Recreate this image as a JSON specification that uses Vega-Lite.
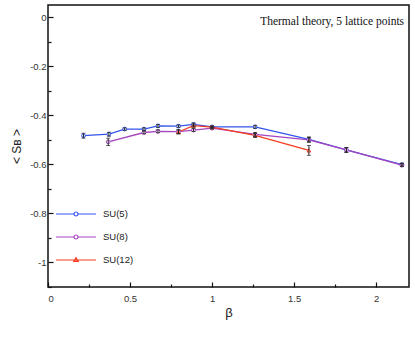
{
  "$schema": "https://vega.github.io/schema/vega-lite/v6.json",
  "width": 361,
  "height": 282,
  "autosize": {"type": "none"},
  "padding": {"left": 48, "top": 5, "right": 6, "bottom": 59},
  "background": "white",
  "config": {
    "view": {"stroke": "#111", "strokeWidth": 1.5},
    "axis": {"labelFont": "Liberation Sans", "labelFontSize": 9.5, "labelColor": "#333", "titleFont": "Liberation Sans", "titleFontWeight": "normal", "titleColor": "#222", "domain": false, "grid": false, "tickColor": "#111", "tickWidth": 1.2},
    "legend": {"orient": "none", "legendX": 7, "legendY": 203, "clipHeight": 12, "symbolSize": 1600, "rowPadding": 11, "labelOffset": 6, "labelFont": "Liberation Sans", "labelFontSize": 9.5, "labelColor": "#222", "symbolStrokeWidth": 1.2, "symbolOpacity": 1, "padding": 0, "title": null}
  },
  "data": {"values": [
    {"series": "SU(5)", "beta": 0.216, "s": -0.483, "err": 0.01},
    {"series": "SU(5)", "beta": 0.371, "s": -0.477, "err": 0.008},
    {"series": "SU(5)", "beta": 0.467, "s": -0.456, "err": 0.005},
    {"series": "SU(5)", "beta": 0.585, "s": -0.456, "err": 0.005},
    {"series": "SU(5)", "beta": 0.67, "s": -0.443, "err": 0.006},
    {"series": "SU(5)", "beta": 0.795, "s": -0.444, "err": 0.005},
    {"series": "SU(5)", "beta": 0.887, "s": -0.437, "err": 0.006},
    {"series": "SU(5)", "beta": 1.0, "s": -0.447, "err": 0.004},
    {"series": "SU(5)", "beta": 1.262, "s": -0.447, "err": 0.006},
    {"series": "SU(5)", "beta": 1.59, "s": -0.498, "err": 0.01},
    {"series": "SU(5)", "beta": 1.818, "s": -0.541, "err": 0.01},
    {"series": "SU(5)", "beta": 2.157, "s": -0.601, "err": 0.006},
    {"series": "SU(8)", "beta": 0.367, "s": -0.508, "err": 0.015},
    {"series": "SU(8)", "beta": 0.585, "s": -0.47, "err": 0.005},
    {"series": "SU(8)", "beta": 0.67, "s": -0.465, "err": 0.006},
    {"series": "SU(8)", "beta": 0.795, "s": -0.466, "err": 0.008},
    {"series": "SU(8)", "beta": 0.887, "s": -0.46, "err": 0.006},
    {"series": "SU(8)", "beta": 1.0, "s": -0.452, "err": 0.004},
    {"series": "SU(8)", "beta": 1.262, "s": -0.478, "err": 0.008},
    {"series": "SU(8)", "beta": 1.59, "s": -0.5, "err": 0.01},
    {"series": "SU(8)", "beta": 1.818, "s": -0.541, "err": 0.01},
    {"series": "SU(8)", "beta": 2.157, "s": -0.603, "err": 0.006},
    {"series": "SU(12)", "beta": 0.795, "s": -0.468, "err": 0.008},
    {"series": "SU(12)", "beta": 0.887, "s": -0.442, "err": 0.006},
    {"series": "SU(12)", "beta": 1.0, "s": -0.448, "err": 0.004},
    {"series": "SU(12)", "beta": 1.262, "s": -0.482, "err": 0.008},
    {"series": "SU(12)", "beta": 1.59, "s": -0.543, "err": 0.02}
  ]},
  "encoding": {
    "x": {"field": "beta", "type": "quantitative", "scale": {"domain": [0, 2.2], "nice": false, "zero": false},
      "axis": {"title": "β", "titleFontSize": 13, "titlePadding": 4, "values": [0, 0.25, 0.5, 0.75, 1, 1.25, 1.5, 1.75, 2],
        "labelExpr": "round(datum.value*4)%2==0 ? toString(datum.value) : ''",
        "tickSize": {"condition": {"test": "round(datum.value*4)%2==0", "value": -5}, "value": -3}, "labelPadding": 11}},
    "y": {"field": "s", "type": "quantitative", "scale": {"domain": [-1.1, 0.05], "nice": false, "zero": false},
      "axis": {"title": "< Sʙ >", "titleFontSize": 12, "titlePadding": 6, "values": [-1.1, -1, -0.9, -0.8, -0.7, -0.6, -0.5, -0.4, -0.3, -0.2, -0.1, 0],
        "labelExpr": "round(datum.value*10)%2==0 ? toString(datum.value) : ''",
        "tickSize": {"condition": {"test": "round(datum.value*10)%2==0", "value": -5}, "value": -3}, "labelPadding": 7}}
  },
  "layer": [
    {
      "mark": {"type": "line", "strokeWidth": 1.3},
      "encoding": {
        "color": {"field": "series", "type": "nominal", "sort": ["SU(5)", "SU(8)", "SU(12)"], "scale": {"domain": ["SU(5)", "SU(8)", "SU(12)"], "range": ["#3355ee", "#a545c0", "#f43c22"]}, "title": null}
      }
    },
    {
      "transform": [{"filter": "datum.series != 'SU(12)'"}],
      "mark": {"type": "point", "shape": "circle", "size": 14, "filled": true, "fill": "white", "strokeWidth": 1, "opacity": 1},
      "encoding": {
        "stroke": {"field": "series", "type": "nominal", "scale": {"domain": ["SU(5)", "SU(8)", "SU(12)"], "range": ["#3355ee", "#a545c0", "#f43c22"]}, "legend": null}
      }
    },
    {
      "transform": [{"filter": "datum.series == 'SU(12)'"}],
      "mark": {"type": "point", "shape": "triangle-up", "size": 14, "filled": true, "fill": "white", "strokeWidth": 1, "opacity": 1},
      "encoding": {
        "stroke": {"field": "series", "type": "nominal", "scale": {"domain": ["SU(5)", "SU(8)", "SU(12)"], "range": ["#3355ee", "#a545c0", "#f43c22"]}, "legend": null}
      }
    },
    {
      "mark": {"type": "errorbar", "color": "#222", "ticks": {"size": 4, "color": "#222"}, "thickness": 1},
      "encoding": {
        "yError": {"field": "err"}
      }
    },
    {
      "mark": {"type": "point", "opacity": 0, "filled": false},
      "encoding": {
        "color": {"field": "series", "type": "nominal", "sort": ["SU(5)", "SU(8)", "SU(12)"], "title": null},
        "shape": {"field": "series", "type": "nominal", "sort": ["SU(5)", "SU(8)", "SU(12)"], "title": null,
          "scale": {"domain": ["SU(5)", "SU(8)", "SU(12)"], "range": [
            "M-1,0H-0.1M0.1,0H1M-0.1,0A0.1,0.1 0 1,1 0.1,0A0.1,0.1 0 1,1 -0.1,0",
            "M-1,0H-0.1M0.1,0H1M-0.1,0A0.1,0.1 0 1,1 0.1,0A0.1,0.1 0 1,1 -0.1,0",
            "M-1,0H1M0,-0.12L0.11,0.07L-0.11,0.07Z"]}}
      }
    },
    {
      "data": {"values": [{"note": "Thermal theory, 5 lattice points", "nx": 2.17, "ny": -0.032}]},
      "mark": {"type": "text", "align": "right", "baseline": "alphabetic", "font": "Liberation Serif", "fontSize": 11.5, "color": "#111"},
      "encoding": {
        "x": {"field": "nx", "type": "quantitative"},
        "y": {"field": "ny", "type": "quantitative"},
        "text": {"field": "note", "type": "nominal"}
      }
    }
  ],
  "resolve": {"legend": {"stroke": "independent"}}
}
